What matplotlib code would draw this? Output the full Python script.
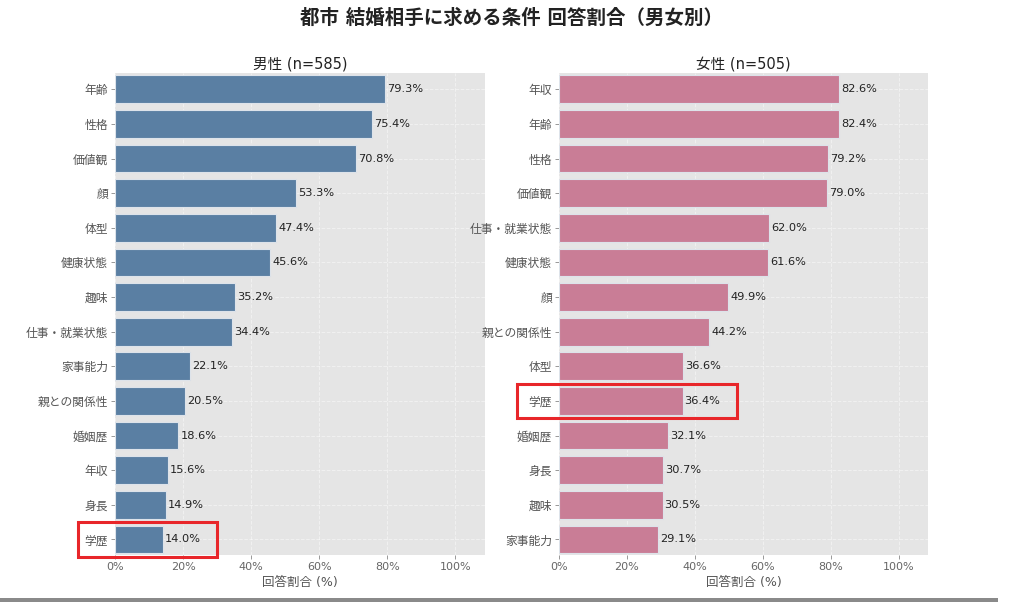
import matplotlib
matplotlib.use("Agg")
import matplotlib.pyplot as plt
from matplotlib.patches import Rectangle
import numpy as np

plt.rcParams['font.family'] = ['DejaVu Sans', 'Noto Sans CJK JP']

title = "都市 結婚相手に求める条件 回答割合（男女別）"

male_title = "男性 (n=585)"
male_cats = ["年齢", "性格", "価値観", "顔", "体型", "健康状態", "趣味", "仕事・就業状態",
             "家事能力", "親との関係性", "婚姻歴", "年収", "身長", "学歴"]
male_vals = [79.3, 75.4, 70.8, 53.3, 47.4, 45.6, 35.2, 34.4, 22.1, 20.5, 18.6, 15.6, 14.9, 14.0]

female_title = "女性 (n=505)"
female_cats = ["年収", "年齢", "性格", "価値観", "仕事・就業状態", "健康状態", "顔", "親との関係性",
               "体型", "学歴", "婚姻歴", "身長", "趣味", "家事能力"]
female_vals = [82.6, 82.4, 79.2, 79.0, 62.0, 61.6, 49.9, 44.2, 36.6, 36.4, 32.1, 30.7, 30.5, 29.1]

xticks = [0, 20, 40, 60, 80, 100]
xtick_labels = ["0%", "20%", "40%", "60%", "80%", "100%"]
xlabel = "回答割合 (%)"
highlight = "学歴"

male_color = "#5a7fa3"
female_color = "#c97d96"

fig = plt.figure(figsize=(10.24, 6.02), dpi=100)
fig.patch.set_facecolor("white")

ax1 = fig.add_axes([0.1123, 0.078, 0.3613, 0.8007])
ax2 = fig.add_axes([0.5459, 0.078, 0.3604, 0.8007])

def draw(ax, cats, vals, color, ttl, box_left):
    n = len(cats)
    y = np.arange(n)
    ax.set_facecolor("#e5e5e5")
    ax.set_axisbelow(True)
    ax.grid(True, axis='both', color='white', linestyle='--', linewidth=0.7, alpha=0.45)
    ax.barh(y, vals, height=0.8, color=color, edgecolor='#dde3ea', linewidth=0.8, zorder=2)
    for yi, v in zip(y, vals):
        ax.text(v + 0.6, yi, f"{v:.1f}%", va='center', ha='left', fontsize=8.2, color='#222222', zorder=3)
    ax.set_yticks(y)
    ax.set_yticklabels(cats, fontsize=8.5, color='#555555')
    ax.set_ylim(n - 0.55, -0.47)
    ax.set_xlim(0, 108.7)
    ax.set_xticks(xticks)
    ax.set_xticklabels(xtick_labels, fontsize=8, color='#666666')
    ax.set_xlabel(xlabel, fontsize=9, color='#555555', labelpad=3)
    ax.tick_params(axis='both', length=3, color='#888888', width=0.6, pad=2)
    for s in ax.spines.values():
        s.set_visible(False)
    ax.set_title(ttl, fontsize=10.5, color='#222222', pad=3)
    idx = cats.index(highlight)
    v = vals[idx]
    rect = Rectangle((box_left, idx - 0.5), v + 16.0 - box_left, 1.0, fill=False,
                     edgecolor='#e8262a', linewidth=2.2, clip_on=False, zorder=5)
    ax.add_patch(rect)

draw(ax1, male_cats, male_vals, male_color, male_title, -10.9)
draw(ax2, female_cats, female_vals, female_color, female_title, -12.4)

fig.text(0.5, 0.97, title, ha='center', va='center', fontsize=14, fontweight='bold', color='#222222')

# bottom gray strip
fig.patches.append(Rectangle((0, 0), 0.975, 0.006, transform=fig.transFigure,
                             facecolor='#8a8a8a', edgecolor='none', zorder=10))

fig.savefig("out.png", dpi=100)
